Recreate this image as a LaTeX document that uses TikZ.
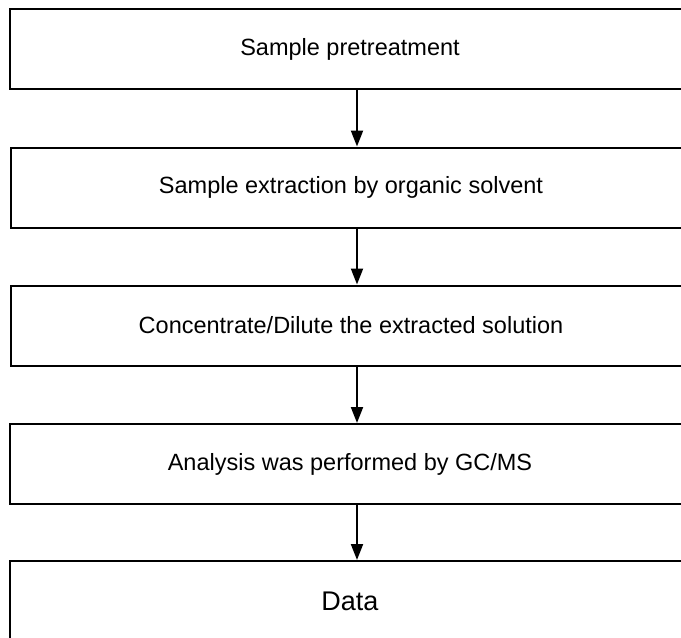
\documentclass[tikz,border=0pt]{standalone}
\usepackage{fontspec}
\setmainfont{Liberation Sans}
\usetikzlibrary{arrows.meta}
\begin{document}
\begin{tikzpicture}[x=1pt,y=-1pt,
  stepbox/.style={draw=black, line width=2pt, minimum width=680pt, minimum height=80pt,
    inner sep=0pt, font=\fontsize{23.5}{28}\selectfont},
  flow/.style={draw=black, line width=2pt, -{Triangle[width=12pt,length=16pt]}}]
\useasboundingbox (0,0) rectangle (681,638);
\clip (0,0) rectangle (681,638);
\node[stepbox] (b1) at (350,49) {Sample pretreatment};
\node[stepbox] (b2) at (351,187.5) {Sample extraction by organic solvent};
\node[stepbox] (b3) at (351,325.5) {Concentrate/Dilute the extracted solution};
\node[stepbox] (b4) at (350,464) {Analysis was performed by GC/MS};
\node[stepbox, font=\fontsize{27}{32}\selectfont] (b5) at (350,601) {Data};
\draw[flow] (b1.south -| 357,0) -- (b2.north -| 357,0);
\draw[flow] (b2.south -| 357,0) -- (b3.north -| 357,0);
\draw[flow] (b3.south -| 357,0) -- (b4.north -| 357,0);
\draw[flow] (b4.south -| 357,0) -- (b5.north -| 357,0);
\end{tikzpicture}
\end{document}
